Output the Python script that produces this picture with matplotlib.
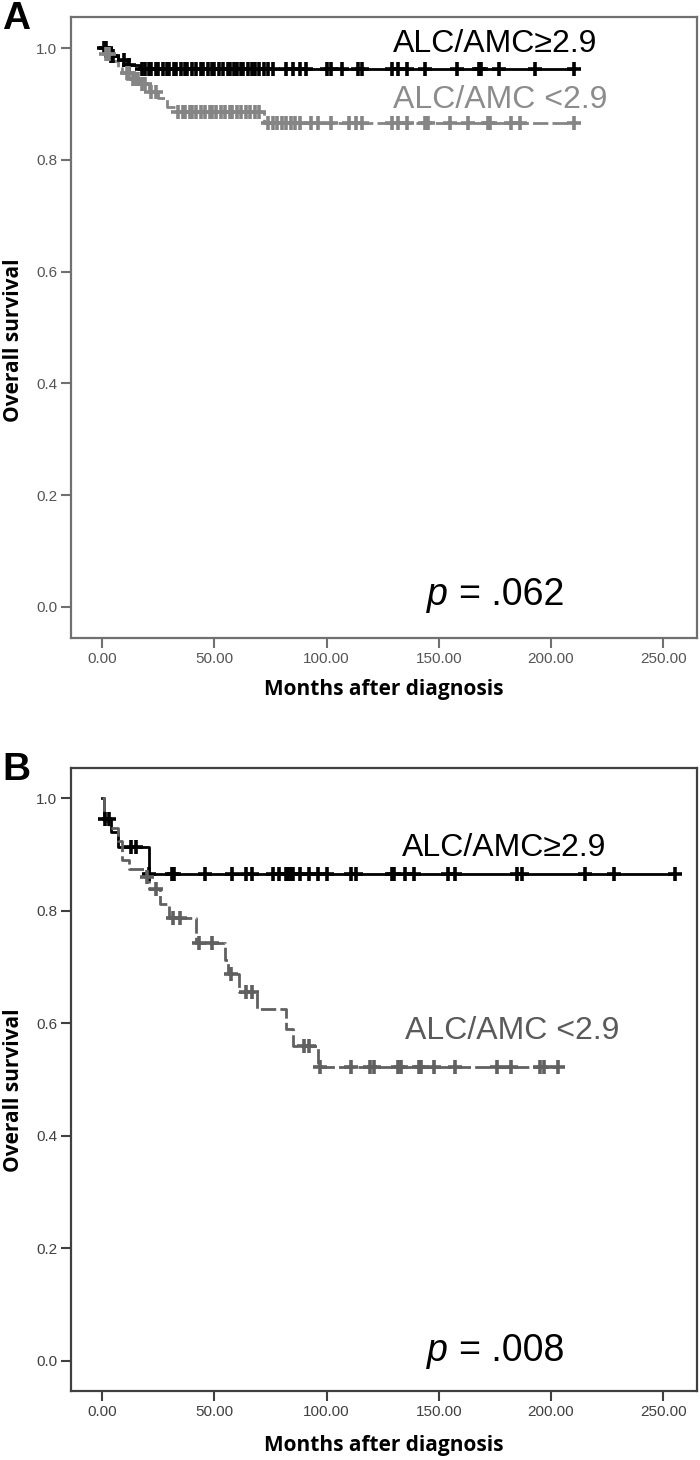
import matplotlib
matplotlib.use('Agg')
import matplotlib.pyplot as plt
import numpy as np

plt.rcParams['font.family'] = ['Liberation Sans', 'DejaVu Sans']
plt.rcParams['lines.scale_dashes'] = False

W, H = 700, 1460

# ---------------- data ----------------
x_ticks = [0, 50, 100, 150, 200, 250]
x_ticklabels = ['0.00', '50.00', '100.00', '150.00', '200.00', '250.00']
y_ticks = [0.0, 0.2, 0.4, 0.6, 0.8, 1.0]
y_ticklabels = ['0.0', '0.2', '0.4', '0.6', '0.8', '1.0']

# Panel A, ALC/AMC >= 2.9
a_hi_t = [0, 3, 7, 11, 17]
a_hi_s = [1.0, 0.986, 0.978, 0.970, 0.962]
a_hi_end = 210
a_hi_cens = [1, 2, 4, 5, 10, 12, 18, 19, 21, 22, 24, 25, 27, 29, 30, 32, 33, 35,
             37, 38, 40, 42, 44, 45, 47, 49, 50, 52, 54, 56, 57, 59, 60, 62, 63,
             65, 67, 68, 70, 72, 74, 76, 82, 85, 88, 91, 100, 102, 107, 114, 116,
             129, 132, 136, 144, 158, 168, 169, 177, 193, 210]

# Panel A, ALC/AMC < 2.9
a_lo_t = [0, 1, 4, 7, 9, 13, 17, 21, 25, 29, 33, 72]
a_lo_s = [1.0, 0.99, 0.977, 0.965, 0.955, 0.945, 0.935, 0.922, 0.91, 0.895, 0.886, 0.866]
a_lo_end = 210
a_lo_cens = [2, 3, 11, 12, 14, 15, 16, 18, 19, 22, 24, 34, 36, 37, 39, 40, 42, 44,
             46, 48, 49, 51, 53, 55, 57, 58, 60, 62, 64, 66, 68, 70, 74, 76, 78,
             80, 82, 84, 86, 88, 93, 96, 102, 110, 113, 116, 129, 132, 136, 144,
             145, 155, 163, 172, 173, 182, 186, 210]

# Panel B, ALC/AMC >= 2.9
b_hi_t = [0, 1, 4, 7, 21]
b_hi_s = [1.0, 0.963, 0.94, 0.913, 0.865]
b_hi_end = 255
b_hi_cens = [1.5, 3, 13, 15, 21, 31, 32, 46, 58, 64, 67, 76, 79, 82, 83, 84, 85,
             88, 92, 96, 100, 111, 113, 129, 130, 135, 139, 154, 157, 185, 187,
             215, 228, 255]

# Panel B, ALC/AMC < 2.9
b_lo_t = [0, 1, 3, 7, 9, 12, 19, 21, 26, 30, 42, 55, 56, 61, 69, 82, 85, 96]
b_lo_s = [1.0, 0.96, 0.948, 0.925, 0.89, 0.875, 0.86, 0.838, 0.812, 0.787, 0.742,
          0.712, 0.688, 0.655, 0.625, 0.59, 0.56, 0.523]
b_lo_end = 203
b_lo_cens = [20, 24, 31.5, 34.6, 43, 49, 57.5, 64, 67, 90, 92, 97, 111, 119.5, 121,
             132, 133, 141, 142, 148, 157, 176, 182, 195, 197, 203]


def surv_at(t_arr, s_arr, t):
    idx = np.searchsorted(np.asarray(t_arr), np.asarray(t), side='right') - 1
    return np.asarray(s_arr)[idx]


def draw_curve(ax, t_arr, s_arr, end, cens, color, dashed):
    tt = list(t_arr) + [end]
    ss = list(s_arr) + [s_arr[-1]]
    line, = ax.step(tt, ss, where='post', color=color, lw=2.0, zorder=3)
    if dashed:
        line.set_dashes((11, 3))
    ax.plot(cens, surv_at(t_arr, s_arr, cens), linestyle='none', marker='+',
            markersize=10, mew=2.6, color=color, zorder=4)


fig = plt.figure(figsize=(W / 100, H / 100), dpi=100)


def make_axes(top, bottom, ylo, yhi, spine_col, tick_col):
    ax = fig.add_axes([71 / W, 1 - bottom / H, (697 - 71) / W, (bottom - top) / H])
    ax.set_xlim(-13.8, 265)
    ax.set_ylim(ylo, yhi)
    ax.set_xticks(x_ticks)
    ax.set_xticklabels(x_ticklabels)
    ax.set_yticks(y_ticks)
    ax.set_yticklabels(y_ticklabels)
    for sp in ax.spines.values():
        sp.set_color(spine_col)
        sp.set_linewidth(1.6)
    ax.tick_params(direction='out', length=7, width=1.5, color=spine_col,
                   labelcolor=tick_col, labelsize=11, pad=3)
    return ax


def ypix(y):
    return 1 - y / H


LBL = dict(fontsize=15, fontweight='bold', family=['Open Sans', 'DejaVu Sans'])

# ---------------- Panel A ----------------
axA = make_axes(17, 638, -0.0555, 1.0555, '#707070', '#555555')
draw_curve(axA, a_hi_t, a_hi_s, a_hi_end, a_hi_cens, '#000000', False)
draw_curve(axA, a_lo_t, a_lo_s, a_lo_end, a_lo_cens, '#858585', True)

fig.text(393 / W, ypix(52), 'ALC/AMC≥2.9', fontsize=23, color='black', va='baseline')
fig.text(393 / W, ypix(108), 'ALC/AMC <2.9', fontsize=23, color='#8c8c8c', va='baseline')
fig.text(427 / W, ypix(605), 'p', fontsize=27, style='italic', color='black', va='baseline')
fig.text(459 / W, ypix(605), '= .062', fontsize=27, color='black', va='baseline')

fig.text(2 / W, ypix(1), 'A', fontsize=28, fontweight='bold', va='top', ha='left')
fig.text(14 / W, ypix(340), 'Overall survival', rotation=90, ha='center', va='center', **LBL)
fig.text(384 / W, ypix(690), 'Months after diagnosis', ha='center', va='center', **LBL)

# ---------------- Panel B ----------------
axB = make_axes(768, 1391, -0.054, 1.054, '#404040', '#404040')
draw_curve(axB, b_hi_t, b_hi_s, b_hi_end, b_hi_cens, '#000000', False)
draw_curve(axB, b_lo_t, b_lo_s, b_lo_end, b_lo_cens, '#606060', True)

fig.text(402 / W, ypix(856), 'ALC/AMC≥2.9', fontsize=23, color='black', va='baseline')
fig.text(405 / W, ypix(1039), 'ALC/AMC <2.9', fontsize=23, color='#5a5a5a', va='baseline')
fig.text(427 / W, ypix(1361), 'p', fontsize=27, style='italic', color='black', va='baseline')
fig.text(459 / W, ypix(1361), '= .008', fontsize=27, color='black', va='baseline')

fig.text(2 / W, ypix(752), 'B', fontsize=28, fontweight='bold', va='top', ha='left')
fig.text(14 / W, ypix(1090), 'Overall survival', rotation=90, ha='center', va='center', **LBL)
fig.text(384 / W, ypix(1446), 'Months after diagnosis', ha='center', va='center', **LBL)

fig.savefig('out.png', dpi=100)
